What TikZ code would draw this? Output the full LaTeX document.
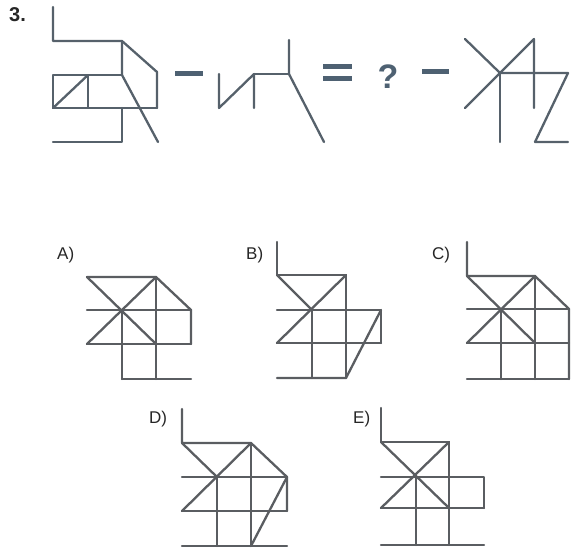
\documentclass[tikz,border=0pt]{standalone}
\usepackage{fontspec}
\setmainfont{Liberation Sans}
\definecolor{ink}{HTML}{56616B}
\definecolor{optink}{HTML}{5A5D61}
\definecolor{sym}{HTML}{4E6172}
\tikzset{
  fig/.style={draw=ink, line width=2.3pt, line cap=round, line join=round},
  opt/.style={draw=optink, line width=2.3pt, line cap=round, line join=round},
  bar/.style={draw=sym, line width=5pt},
  lbl/.style={font=\fontsize{17}{19}\selectfont, text=black!85, inner sep=0pt, anchor=base west}
}
\begin{document}
\begin{tikzpicture}[x=1pt,y=-1pt]
\useasboundingbox (0,0) rectangle (572,556);
% question number
\node[inner sep=0pt, anchor=base west, font=\fontsize{20}{22}\selectfont\bfseries, text=black!85] (num) at (9,22) {3.};
% ---- figure 1
\draw[fig] (53,7) -- (53,41) -- (122,41) -- (157,72) -- (157,108);
\draw[fig] (122,41) -- (122,75) -- (158,142);
\draw[fig] (53,75) rectangle (88,108);
\draw[fig] (88,75) -- (122,75);
\draw[fig] (88,108) -- (157,108);
\draw[fig] (53,108) -- (88,75);
\draw[fig] (122,108) -- (122,142) -- (53,142);
% minus
\draw[bar] (175,74) -- (203,74);
% ---- figure 2
\draw[fig] (219,74) -- (219,108) -- (254,74) -- (254,108);
\draw[fig] (254,74) -- (289,74);
\draw[fig] (289,40) -- (289,74) -- (324,142);
% equals
\draw[bar] (323,67) -- (352,67);
\draw[bar] (323,79) -- (352,79);
% question mark
\node[inner sep=0pt, anchor=base, text=sym, font=\fontsize{34}{34}\selectfont\bfseries] (qm) at (388,89) {?};
% minus
\draw[bar] (422,72) -- (449,72);
% ---- figure 4
\draw[fig] (465,39) -- (500,73);
\draw[fig] (465,108) -- (534,39) -- (534,108);
\draw[fig] (500,73) -- (568,73) -- (535,142) -- (568,142);
\draw[fig] (500,73) -- (500,142);
% ---- option A
\node[lbl] (la) at (57,259) {A)};
\draw[opt] (87,277) -- (156,277) -- (191,310) -- (191,344);
\draw[opt] (87,277) -- (156,344);
\draw[opt] (87,344) -- (156,277);
\draw[opt] (87,310) -- (191,310);
\draw[opt] (87,344) -- (191,344);
\draw[opt] (156,277) -- (156,379);
\draw[opt] (122,310) -- (122,379);
\draw[opt] (122,379) -- (191,379);
% ---- option B
\node[lbl] (lb) at (246,259) {B)};
\draw[opt] (277,242) -- (277,275) -- (346,275) -- (346,378);
\draw[opt] (277,275) -- (312,310);
\draw[opt] (346,275) -- (277,343);
\draw[opt] (277,310) -- (381,310) -- (381,343);
\draw[opt] (277,343) -- (381,343);
\draw[opt] (312,310) -- (312,378);
\draw[opt] (277,378) -- (346,378) -- (381,310);
% ---- option C
\node[lbl] (lc) at (432,259) {C)};
\draw[opt] (467,242) -- (467,276) -- (535,276) -- (569,309) -- (569,379);
\draw[opt] (467,276) -- (535,343);
\draw[opt] (535,276) -- (467,343);
\draw[opt] (467,309) -- (569,309);
\draw[opt] (467,343) -- (569,343);
\draw[opt] (535,276) -- (535,379);
\draw[opt] (501,309) -- (501,379);
\draw[opt] (467,379) -- (569,379);
% ---- option D
\node[lbl] (ld) at (149,423) {D)};
\draw[opt] (182,409) -- (182,443) -- (251,443) -- (287,477) -- (287,511);
\draw[opt] (182,443) -- (217,477);
\draw[opt] (251,443) -- (182,511);
\draw[opt] (182,477) -- (287,477);
\draw[opt] (182,511) -- (287,511);
\draw[opt] (251,443) -- (251,546);
\draw[opt] (217,477) -- (217,546);
\draw[opt] (182,546) -- (287,546);
\draw[opt] (287,477) -- (251,546);
% ---- option E
\node[lbl] (le) at (353,423) {E)};
\draw[opt] (381,408) -- (381,442) -- (449,442) -- (449,545);
\draw[opt] (381,442) -- (449,508);
\draw[opt] (449,442) -- (381,508);
\draw[opt] (381,477) -- (484,477) -- (484,508);
\draw[opt] (381,508) -- (484,508);
\draw[opt] (416,477) -- (416,545);
\draw[opt] (381,545) -- (484,545);
\end{tikzpicture}
\end{document}
